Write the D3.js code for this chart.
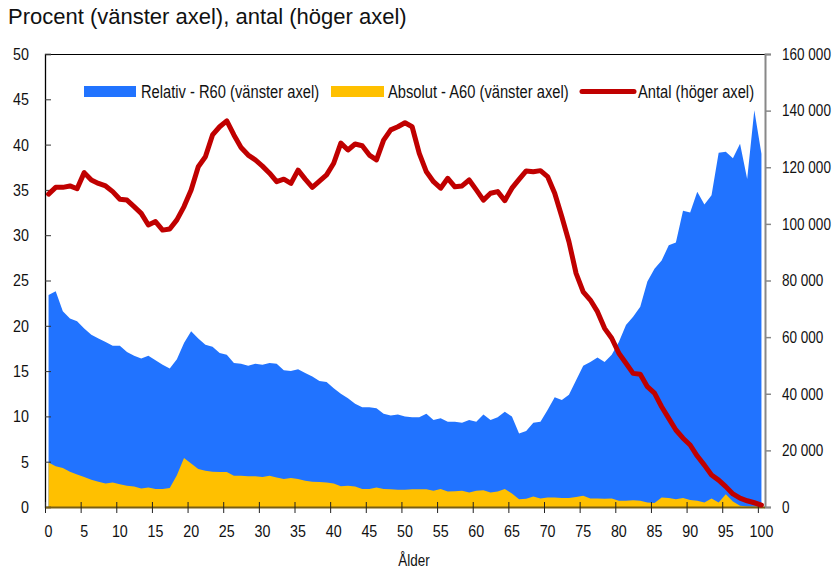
<!DOCTYPE html>
<html>
<head>
<meta charset="utf-8">
<script src="https://cdn.jsdelivr.net/npm/d3@7"></script>
<style>
  html, body { margin: 0; padding: 0; background: #fff; }
  svg { display: block; }
  .cond { font-family: "Liberation Sans", Arial, sans-serif; }
</style>
</head>
<body>
<div id="chart"></div>
<script>
// ---- Data ----
const ages = d3.range(0, 101);
const relativR60 = [
  23.4, 23.8, 21.6, 20.8, 20.5, 19.7, 19.0, 18.6, 18.2, 17.8,
  17.8, 17.1, 16.7, 16.4, 16.7, 16.2, 15.7, 15.3, 16.3, 18.1,
  19.4, 18.6, 17.9, 17.7, 17.0, 16.8, 15.9, 15.8, 15.6, 15.8,
  15.7, 15.9, 15.8, 15.1, 15.0, 15.2, 14.8, 14.4, 13.9, 13.8,
  13.1, 12.5, 12.0, 11.4, 11.0, 11.0, 10.9, 10.3, 10.1, 10.2,
  10.0, 9.9, 9.9, 10.3, 9.6, 9.8, 9.4, 9.4, 9.3, 9.6,
  9.4, 10.2, 9.6, 9.9, 10.5, 10.0, 8.1, 8.4, 9.3, 9.4,
  10.7, 12.1, 11.8, 12.4, 14.0, 15.6, 16.0, 16.5, 16.0, 16.8,
  18.2, 20.1, 21.0, 22.1, 24.9, 26.3, 27.2, 28.9, 29.2, 32.7,
  32.5, 34.8, 33.4, 34.4, 39.1, 39.2, 38.5, 40.1, 36.2, 43.8,
  39.0
];
const absolutA60 = [
  4.9, 4.5, 4.3, 3.9, 3.6, 3.3, 3.0, 2.8, 2.6, 2.7,
  2.5, 2.35, 2.25, 2.05, 2.15, 2.0, 2.0, 2.1, 3.5, 5.4,
  4.8, 4.2, 4.0, 3.9, 3.85, 3.85, 3.45, 3.45, 3.4, 3.4,
  3.3, 3.45, 3.25, 3.1, 3.2, 3.1, 2.9, 2.8, 2.75, 2.7,
  2.6, 2.3, 2.35, 2.25, 2.0, 2.0, 2.15, 2.0, 1.95, 1.9,
  1.9, 1.95, 1.95, 1.95, 1.8, 2.0, 1.7, 1.75, 1.8, 1.6,
  1.8, 1.85, 1.6, 1.7, 2.0, 1.5, 0.85, 0.9, 1.15, 0.95,
  1.05, 1.05, 1.0, 1.0, 1.1, 1.25, 0.95, 0.95, 0.9, 0.95,
  0.7, 0.7, 0.75, 0.7, 0.5, 0.45, 1.05, 1.0, 0.85, 1.0,
  0.77, 0.7, 0.5, 0.95, 0.5, 1.4, 0.6, 0.15, 0.05, 0.05,
  0.0
];
const antal = [
  110500, 112900, 112900, 113400, 112400, 118100, 115500, 114300, 113400, 111400,
  108700, 108400, 106100, 103700, 99600, 100800, 97800, 98200, 101400, 106100,
  112000, 120200, 123700, 131400, 134300, 136400, 131400, 127000, 124300, 122600,
  120400, 117900, 114900, 115800, 114300, 119000, 115800, 112900, 115100, 117300,
  121400, 128500, 126100, 128200, 127600, 124300, 122600, 129600, 133200, 134300,
  135700, 134300, 124900, 118400, 114900, 112600, 116100, 113100, 113400, 115500,
  112000, 108400, 110800, 111400, 108200, 112600, 115700, 118700, 118400, 118800,
  116700, 110800, 102500, 93700, 82500, 76000, 73100, 69000, 63100, 59600,
  54300, 50800, 47200, 46900, 42500, 40200, 35400, 31300, 27200, 24300,
  21900, 18000, 14800, 11300, 9500, 7200, 4600, 3100, 2200, 1500,
  700
];
const leftTicks = [0, 5, 10, 15, 20, 25, 30, 35, 40, 45, 50];
const rightTicks = [0, 20000, 40000, 60000, 80000, 100000, 120000, 140000, 160000];
const xTickAges = d3.range(0, 101, 5);
const titleText = "Procent (vänster axel), antal (höger axel)";
const xTitle = "Ålder";
const seriesNames = ["Relativ - R60 (vänster axel)", "Absolut - A60 (vänster axel)", "Antal (höger axel)"];

// ---- Layout ----
const W = 838, H = 567;
const L = 45, R = 765, T = 54, B = 507;
const cBlue = "#2173FF", cYellow = "#FFC000", cRed = "#C00000";
const K = 0.84; // narrow (condensed) font factor

const svg = d3.select("#chart").append("svg").attr("width", W).attr("height", H);

function condense(sel, k) {
  sel.each(function () {
    const w = this.getComputedTextLength();
    if (w > 0) d3.select(this).attr("textLength", w * k).attr("lengthAdjust", "spacingAndGlyphs");
  });
}

const x = d3.scaleBand().domain(ages).range([L, R]).padding(0);
const xc = a => x(a) + x.bandwidth() / 2;
const yL = d3.scaleLinear().domain([0, 50]).range([B, T]);
const yR = d3.scaleLinear().domain([0, 160000]).range([B, T]);

const loc = d3.formatLocale({ decimal: ",", thousands: " ", grouping: [3], currency: ["", " kr"] });
const fmtR = loc.format(",.0f");

// Title
svg.append("text").attr("x", 8).attr("y", 24)
  .style("font-family", "'Liberation Sans', Arial, sans-serif").style("font-size", "22px").attr("fill", "#111")
  .text(titleText);

// Areas
const areaBlue = d3.area().x((d, i) => xc(ages[i])).y0(B).y1(d => yL(d));
svg.append("path").datum(relativR60).attr("d", areaBlue).attr("fill", cBlue);
const areaYellow = d3.area().x((d, i) => xc(ages[i])).y0(B).y1(d => yL(d));
svg.append("path").datum(absolutA60).attr("d", areaYellow).attr("fill", cYellow);

// Top border
svg.append("line").attr("x1", L).attr("x2", R).attr("y1", T + 0.5).attr("y2", T + 0.5)
  .attr("stroke", "#000").attr("stroke-width", 1);

// Left axis (ticks inside)
const gL = svg.append("g").attr("transform", `translate(${L},0)`);
gL.call(d3.axisRight(yL).tickValues(leftTicks).tickSize(6).tickFormat(""));
gL.select(".domain").attr("stroke", "#000").attr("stroke-width", 1.3);
gL.selectAll(".tick line").attr("stroke", "#333");
const tl = svg.append("g").selectAll("text").data(leftTicks).join("text")
  .attr("class", "cond").attr("x", 29).attr("y", d => yL(d)).attr("dy", "0.35em")
  .attr("text-anchor", "end").style("font-size", "17px").attr("fill", "#111").text(d => d);
condense(tl, K);

// Right axis
const gR = svg.append("g").attr("transform", `translate(${R},0)`);
gR.call(d3.axisRight(yR).tickValues(rightTicks).tickSize(6).tickFormat(""));
gR.select(".domain").attr("stroke", "#888").attr("stroke-width", 2);
gR.selectAll(".tick line").attr("stroke", "#888").attr("stroke-width", 1.5);
const tr = svg.append("g").selectAll("text").data(rightTicks).join("text")
  .attr("class", "cond").attr("x", 782).attr("y", d => yR(d)).attr("dy", "0.35em")
  .attr("text-anchor", "start").style("font-size", "16.5px").attr("fill", "#111").text(d => fmtR(d));
condense(tr, 0.82);

// Bottom axis
svg.append("line").attr("x1", L).attr("x2", R).attr("y1", B + 0.5).attr("y2", B + 0.5)
  .attr("stroke", "#7A5F12").attr("stroke-width", 2);
svg.append("g").selectAll("line").data(xTickAges).join("line")
  .attr("x1", d => x(d) + 0.5).attr("x2", d => x(d) + 0.5).attr("y1", B - 5).attr("y2", B + 6)
  .attr("stroke", "#222").attr("stroke-width", 1);
const tx = svg.append("g").selectAll("text").data(xTickAges).join("text")
  .attr("class", "cond").attr("x", d => xc(d)).attr("y", 531).attr("dy", "0.35em")
  .attr("text-anchor", "middle").style("font-size", "17px").attr("fill", "#111").text(d => d);
condense(tx, K);
const xt = svg.append("text").attr("class", "cond").attr("x", 414).attr("y", 566)
  .attr("text-anchor", "middle").style("font-size", "16px").attr("fill", "#111").text(xTitle);
condense(xt, K);

// Red line
const line = d3.line().x((d, i) => xc(ages[i])).y(d => yR(d));
svg.append("path").datum(antal).attr("d", line).attr("fill", "none")
  .attr("stroke", cRed).attr("stroke-width", 5).attr("stroke-linejoin", "round").attr("stroke-linecap", "round");

// Legend
const lg = svg.append("g");
lg.append("rect").attr("x", 84).attr("y", 86).attr("width", 52).attr("height", 11).attr("fill", cBlue);
lg.append("rect").attr("x", 331).attr("y", 86).attr("width", 53).attr("height", 11).attr("fill", cYellow);
lg.append("line").attr("x1", 582).attr("x2", 634).attr("y1", 91.5).attr("y2", 91.5)
  .attr("stroke", cRed).attr("stroke-width", 5).attr("stroke-linecap", "round");
const legX = [141, 388, 638];
const lt = lg.selectAll("text.leg").data(seriesNames).join("text")
  .attr("class", "cond leg").attr("x", (d, i) => legX[i]).attr("y", 91.5).attr("dy", "0.35em")
  .style("font-size", "17.5px").attr("fill", "#111").text(d => d);
condense(lt, K);
</script>
</body>
</html>
